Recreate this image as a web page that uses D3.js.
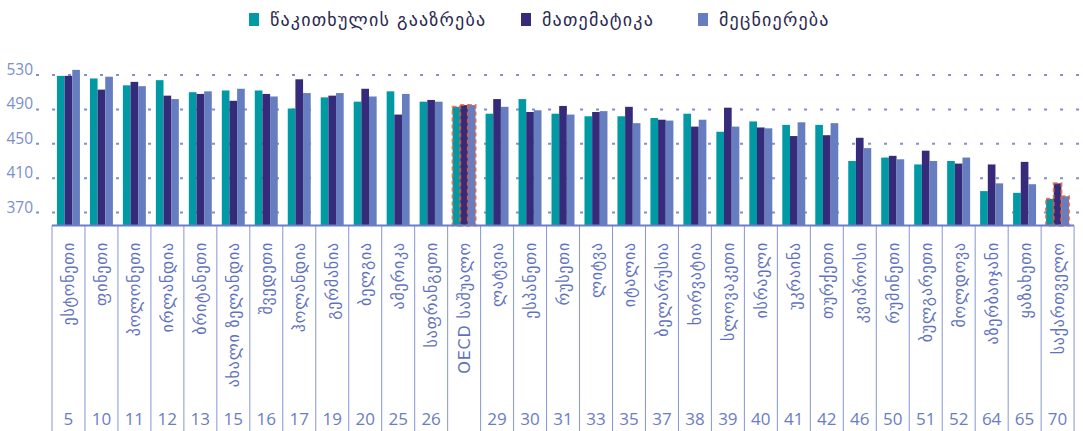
<!DOCTYPE html>
<html>
<head>
<meta charset="utf-8">
<script src="https://cdn.jsdelivr.net/npm/d3@7"></script>
<style>
    body { margin: 0; background: #fff; }
    #d3-viz { width: 1083px; height: 431px; }
    .geo { font-family: "DejaVu Sans", sans-serif; }
    .num { font-family: "Open Sans", "Noto Sans", sans-serif; }
</style>
</head>
<body>
<div id="d3-viz"></div>
<script>
const countries = ["ესტონეთი", "ფინეთი", "პოლონეთი", "ირლანდია", "ბრიტანეთი", "ახალი ზელანდია", "შვედეთი", "ჰოლანდია", "გერმანია", "ბელგია", "ამერიკა", "საფრანგეთი", "OECD საშუალო", "ლატვია", "ესპანეთი", "რუსეთი", "ლიტვა", "იტალია", "ბელარუსია", "ხორვატია", "სლოვაკეთი", "ისრაელი", "უკრაინა", "თურქეთი", "კვიპროსი", "რუმინეთი", "ბულგარეთი", "მოლდოვა", "აზერბაიჯანი", "ყაზახეთი", "საქართველო"];
const ranks = ["5", "10", "11", "12", "13", "15", "16", "17", "19", "20", "25", "26", "", "29", "30", "31", "33", "35", "37", "38", "39", "40", "41", "42", "46", "50", "51", "52", "64", "65", "70"];
const reading = [529, 526, 518, 524, 510, 512, 512, 491, 504, 499, 511, 499, 493, 485, 502, 485, 482, 482, 480, 485, 464, 476, 472, 472, 430, 434, 426, 430, 395, 393, 386];
const math = [529, 513, 522, 506, 508, 500, 508, 525, 506, 514, 484, 501, 495, 502, 487, 494, 487, 493, 478, 470, 492, 469, 459, 460, 457, 436, 442, 427, 426, 429, 404];
const science = [536, 528, 517, 502, 511, 514, 505, 509, 509, 505, 508, 499, 495, 493, 489, 484, 488, 474, 477, 478, 470, 468, 475, 474, 445, 432, 430, 434, 404, 403, 389];
const seriesNames = ["წაკითხულის გააზრება", "მათემატიკა", "მეცნიერება"];
const seriesColors = ["#0099a4", "#352b7a", "#667dc0"];
const yTicks = [370, 410, 450, 490, 530];
const highlighted = ["OECD საშუალო", "საქართველო"];

const width = 1083, height = 431;
const baseY = 225.5;
const svg = d3.select("#d3-viz").append("svg").attr("width", width).attr("height", height);

const x0 = d3.scaleBand().domain(countries).range([52, 1074]).paddingInner(0.303).paddingOuter(0.15);
const x1 = d3.scaleBand().domain(d3.range(3)).range([0, x0.bandwidth()]);
const y = d3.scaleLinear().domain([355, 530]).range([baseY, 75]);

// gridlines + tick labels
const grid = svg.append("g");
grid.selectAll("line").data(yTicks).join("line")
    .attr("x1", 36).attr("x2", width)
    .attr("y1", d => y(d)).attr("y2", d => y(d))
    .attr("stroke", "#7f90cf").attr("stroke-width", 2)
    .attr("stroke-dasharray", "3,13");
grid.selectAll("text").data(yTicks).join("text")
    .attr("class", "num")
    .attr("x", 33).attr("y", d => y(d))
    .attr("text-anchor", "end")
    .attr("font-size", 15.5)
    .attr("fill", "#7b8ecf")
    .text(d => d);

// bars
const rows = countries.map((c, i) => ({ country: c, values: [reading[i], math[i], science[i]] }));
const groups = svg.append("g").selectAll("g").data(rows).join("g")
    .attr("transform", d => `translate(${x0(d.country)},0)`);
groups.selectAll("rect").data(d => d.values.map((v, k) => ({ v, k, hl: highlighted.includes(d.country) }))).join("rect")
    .attr("x", d => x1(d.k))
    .attr("width", x1.bandwidth())
    .attr("y", d => y(d.v))
    .attr("height", d => baseY - y(d.v))
    .attr("fill", d => seriesColors[d.k])
    .attr("stroke", d => d.hl ? "#e0603f" : "none")
    .attr("stroke-opacity", 0.8)
    .attr("stroke-width", 2)
    .attr("stroke-dasharray", "4,3");

// table below
const step = x0.step();
const edges = d3.range(countries.length + 1).map(i => 52 + i * step);
svg.append("g").selectAll("line").data(edges).join("line")
    .attr("x1", d => d).attr("x2", d => d)
    .attr("y1", baseY).attr("y2", height)
    .attr("stroke", "#8596d3").attr("stroke-width", 1);
svg.append("line")
    .attr("x1", 52).attr("x2", 1074)
    .attr("y1", baseY).attr("y2", baseY)
    .attr("stroke", "#6b7fc6").attr("stroke-width", 2);

svg.append("g").selectAll("text").data(countries).join("text")
    .attr("class", "geo")
    .attr("transform", d => `translate(${x0(d) + x0.bandwidth() / 2 + 6},242) rotate(-90)`)
    .attr("text-anchor", "end")
    .attr("font-size", 16)
    .attr("letter-spacing", 0.8)
    .attr("fill", "#5f72c0")
    .text(d => d);

svg.append("g").selectAll("text").data(ranks).join("text")
    .attr("class", "num")
    .attr("x", (d, i) => x0(countries[i]) + x0.bandwidth() / 2)
    .attr("y", 425)
    .attr("text-anchor", "middle")
    .attr("font-size", 17)
    .attr("fill", "#6a7dc3")
    .text(d => d);

// legend
const legendX = [249, 521, 698];
const legend = svg.append("g").selectAll("g").data(seriesNames).join("g")
    .attr("transform", (d, i) => `translate(${legendX[i]},13)`);
legend.append("rect").attr("width", 10).attr("height", 13).attr("fill", (d, i) => seriesColors[i]);
legend.append("text")
    .attr("class", "geo")
    .attr("x", 21).attr("y", 13)
    .attr("font-size", 18)
    .attr("letter-spacing", 1.2)
    .attr("fill", "#2a2950")
    .text(d => d);
</script>
</body>
</html>
